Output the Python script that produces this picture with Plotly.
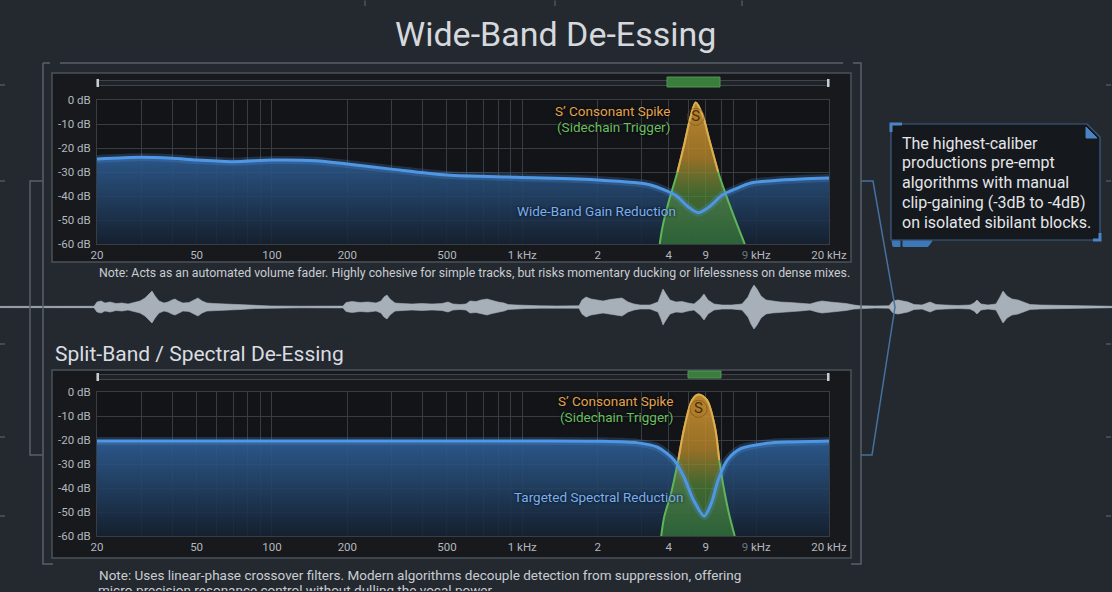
import math
import plotly.graph_objects as go

W, H = 1112, 592
FONT = "Roboto, 'Open Sans', sans-serif"
BG = "#242930"
GRID = "#383d45"

# ---------------- data ----------------
freq_tick_vals = [20, 50, 100, 200, 500, 1000, 2000, 3850, 5400, 8600, 16800]
freq_tick_text = ["20", "50", "100", "200", "500", "1 kHz", "2", "4", "9",
                  "<span style='color:#6d737b'>9</span> kHz", "20 kHz"]
freq_minor_grid = [30, 40, 60, 70, 80, 90, 300, 400, 600, 700, 800, 900,
                   3000, 4600, 6250, 6950]
db_tick_vals = [0, -10, -20, -30, -40, -50, -60]
db_tick_text = ["0 dB", "-10 dB", "-20 dB", "-30 dB", "-40 dB", "-50 dB", "-60 dB"]

# Wide-band gain reduction curve
wide_freq = [20, 30, 40, 50, 70, 100, 150, 200, 300, 500, 950, 2000, 2800, 3260,
             4080, 4600, 5050, 5600, 6300, 7200, 8200, 10000, 13000, 16800]
wide_db = [-24.6, -23.9, -24.3, -25.0, -25.7, -25.0, -25.3, -26.7, -28.8, -31.2,
           -32.2, -33.3, -34.4, -35.4, -39.6, -44.5, -47.0, -44.4, -39.6, -36.8,
           -34.6, -33.6, -32.9, -32.5]
wide_spike_freq = [3540, 3630, 3830, 4167, 4447, 4702, 4930, 5240, 5600, 6060, 6696, 7280, 7740]
wide_spike_db = [-60, -53, -43, -30, -18, -7, -1, -6, -17, -30, -43, -53, -60]

# Split-band targeted reduction curve
split_freq = [20, 100, 500, 1000, 2000, 2900, 3470, 4040, 4420, 4830, 5330, 5690,
              6060, 6600, 7480, 9450, 12000, 16800]
split_db = [-20.4, -20.4, -20.4, -20.4, -20.5, -21.2, -23.0, -28.3, -35.3, -45.0,
            -51.7, -46.4, -36.7, -28.3, -23.5, -21.4, -20.8, -20.4]
split_spike_freq = [3590, 3690, 3930, 4200, 4447, 4770, 5060, 5460, 5880, 6120, 6440, 6740, 7060]
split_spike_db = [-60, -52, -42.2, -28.3, -14.5, -3.3, -1, -3.3, -14.5, -28.3, -42.2, -52, -60]

# Vocal waveform envelope (time position, amplitude)
wave_envelope = [
    (0, 0.6), (94, 0.7), (97, 5), (101, 6), (105, 4), (110, 5), (116, 3.5), (122, 4),
    (128, 3), (134, 4.5), (140, 6), (145, 9), (149, 13), (152, 16), (155, 11), (159, 6),
    (164, 4), (168, 5), (172, 7), (175, 8), (178, 6), (183, 4), (189, 4.5), (194, 7),
    (198, 9), (202, 6), (207, 4), (214, 3.5), (225, 3), (240, 2.5), (255, 1.5), (271, 1),
    (300, 0.8), (343, 0.9), (346, 4.5), (352, 5.5), (360, 4.5), (368, 5), (376, 4),
    (381, 6), (384, 10), (387, 12), (390, 8), (395, 4), (402, 3.5), (412, 3), (422, 3.5),
    (432, 3), (442, 3.5), (448, 5), (453, 3), (460, 2.5), (466, 3), (470, 6), (476, 5.5),
    (481, 7), (487, 8), (492, 6.5), (498, 5), (504, 4), (508, 2.5), (516, 2), (526, 1.5),
    (540, 1.2), (557, 1), (579, 1.2), (582, 7), (586, 10), (591, 8), (597, 7), (603, 6),
    (610, 7.5), (616, 8), (622, 9), (628, 5), (634, 3), (640, 2), (650, 2), (658, 5),
    (661, 12), (663, 18), (666, 13), (670, 7), (676, 5), (682, 5.5), (688, 4), (694, 3),
    (700, 8), (704, 13), (708, 7), (714, 3), (722, 2), (732, 2), (742, 3), (748, 10),
    (751, 17), (754, 22), (757, 18), (761, 11), (766, 7), (772, 6), (780, 5), (790, 4.5),
    (800, 4), (810, 3), (817, 5), (822, 6), (830, 5), (838, 4.5), (846, 3.5), (854, 2),
    (860, 1.2), (875, 1), (889, 1.2), (893, 6), (898, 7), (903, 6), (908, 5), (914, 2.5),
    (922, 2), (930, 5), (936, 2.5), (945, 2), (958, 1.5), (970, 2), (974, 4), (977, 7),
    (981, 3), (988, 2), (996, 3), (1000, 10), (1003, 16), (1007, 11), (1012, 8),
    (1018, 7), (1024, 5), (1030, 2.5), (1040, 2), (1060, 1.5), (1085, 1), (1112, 0.7),
]
wave_time = [t for t, a in wave_envelope]
wave_amp = [a for t, a in wave_envelope]

callout_lines = ["The highest-caliber", "productions pre-empt", "algorithms with manual",
                 "clip-gaining (-3dB to -4dB)", "on isolated sibilant blocks."]


# ---------------- helpers (layout in pixels -> paper) ----------------
def PX(x):
    return x / W


def PY(y):
    return 1 - y / H


def rect(x0, y0, x1, y1, fill=None, line=None, lw=1.0, layer="below"):
    return dict(type="rect", xref="paper", yref="paper",
                x0=PX(x0), x1=PX(x1), y0=PY(y1), y1=PY(y0),
                fillcolor=fill or "rgba(0,0,0,0)",
                line=dict(color=line or "rgba(0,0,0,0)", width=lw if line else 0),
                layer=layer)


def poly(points, color, lw=1.5, fill=None, closed=False, layer="above"):
    d = "M" + " L".join(f"{PX(x):.5f},{PY(y):.5f}" for x, y in points)
    if closed:
        d += " Z"
    return dict(type="path", xref="paper", yref="paper", path=d,
                line=dict(color=color, width=lw),
                fillcolor=fill or "rgba(0,0,0,0)", layer=layer)


def txt(s, x, y, size, color, xanchor="center", yanchor="middle", shadow=None, **kw):
    f = dict(family=FONT, size=size, color=color)
    if shadow:
        f["shadow"] = shadow
    return dict(text=s, x=PX(x), y=PY(y), xref="paper", yref="paper", showarrow=False,
                xanchor=xanchor, yanchor=yanchor, font=f, **kw)


fig = go.Figure()


def add_panel(xa, ya, curve_f, curve_db, spike_f, spike_db, stop_db):
    base_db = min(db_tick_vals)
    fig.add_trace(go.Scatter(x=[curve_f[0], curve_f[-1]], y=[base_db, base_db],
                             mode="lines", line=dict(width=0, color="rgba(0,0,0,0)"),
                             xaxis=xa, yaxis=ya, hoverinfo="skip"))
    fig.add_trace(go.Scatter(x=curve_f, y=curve_db, mode="lines",
                             line=dict(width=0, shape="spline", smoothing=0.8, color="rgba(0,0,0,0)"),
                             fill="tonexty",
                             fillgradient=dict(type="vertical",
                                               colorscale=[[0, "rgba(22,34,50,0.88)"],
                                                           [1, "rgba(46,96,152,0.9)"]],
                                               start=base_db, stop=stop_db),
                             xaxis=xa, yaxis=ya, hoverinfo="skip"))
    fig.add_trace(go.Scatter(x=spike_f, y=spike_db, mode="lines",
                             line=dict(width=0, shape="spline", smoothing=0.9, color="rgba(0,0,0,0)"),
                             fill="toself",
                             fillgradient=dict(type="vertical",
                                               colorscale=[[0, "rgba(55,125,60,0.7)"],
                                                           [0.35, "rgba(85,135,55,0.72)"],
                                                           [0.6, "rgba(180,132,42,0.82)"],
                                                           [1, "rgba(206,146,48,0.9)"]],
                                               start=base_db, stop=0),
                             xaxis=xa, yaxis=ya, hoverinfo="skip"))
    fig.add_trace(go.Scatter(x=spike_f, y=spike_db, mode="lines",
                             line=dict(width=2, shape="spline", smoothing=0.9, color="#5fb55a"),
                             xaxis=xa, yaxis=ya, hoverinfo="skip"))
    up = [(f, d) for f, d in zip(spike_f, spike_db) if d >= -31]
    fig.add_trace(go.Scatter(x=[u[0] for u in up], y=[u[1] for u in up], mode="lines",
                             line=dict(width=2, shape="spline", smoothing=0.9, color="#eaa84c"),
                             xaxis=xa, yaxis=ya, hoverinfo="skip"))
    fig.add_trace(go.Scatter(x=curve_f, y=curve_db, mode="lines",
                             line=dict(width=8, shape="spline", smoothing=0.8, color="rgba(80,150,230,0.22)"),
                             xaxis=xa, yaxis=ya, hoverinfo="skip"))
    fig.add_trace(go.Scatter(x=curve_f, y=curve_db, mode="lines",
                             line=dict(width=3, shape="spline", smoothing=0.8, color="#4f97e4"),
                             xaxis=xa, yaxis=ya, hoverinfo="skip"))
    pk = spike_db.index(max(spike_db))
    fig.add_trace(go.Scatter(x=[spike_f[pk]], y=[spike_db[pk] - 6], mode="markers+text",
                             text=["S"], textposition="middle center",
                             textfont=dict(family=FONT, size=15, color="#4a2f0c"),
                             marker=dict(size=17, color="rgba(0,0,0,0)",
                                         line=dict(color="rgba(110,70,20,0.55)", width=1)),
                             xaxis=xa, yaxis=ya, hoverinfo="skip"))
    fig.add_trace(go.Scatter(x=[spike_f[pk]], y=[2.6], mode="markers",
                             marker=dict(symbol="triangle-down", size=11, color="#7cc35f"),
                             cliponaxis=False, xaxis=xa, yaxis=ya, hoverinfo="skip"))


add_panel("x", "y", wide_freq, wide_db, wide_spike_freq, wide_spike_db, -22)
add_panel("x2", "y2", split_freq, split_db, split_spike_freq, split_spike_db, -20)

# waveform
fig.add_trace(go.Scatter(x=[wave_time[0], wave_time[-1]], y=[0, 0], mode="lines",
                         line=dict(width=1, color="#7d858e"), xaxis="x3", yaxis="y3",
                         hoverinfo="skip"))
fig.add_trace(go.Scatter(x=wave_time + wave_time[::-1],
                         y=wave_amp + [-a for a in wave_amp[::-1]],
                         mode="lines", fill="toself", fillcolor="#a7b0b9",
                         line=dict(width=0.6, color="#a7b0b9"),
                         xaxis="x3", yaxis="y3", hoverinfo="skip"))


def freq_axis(anchor):
    return dict(type="log", range=[math.log10(freq_tick_vals[0]), math.log10(freq_tick_vals[-1])],
                domain=[PX(97), PX(829)], anchor=anchor, automargin=False,
                tickmode="array", tickvals=freq_tick_vals, ticktext=freq_tick_text,
                tickfont=dict(family=FONT, size=11.5, color="#b3b8be"),
                ticks="", showgrid=True, gridcolor=GRID, gridwidth=1,
                minor=dict(tickmode="array", tickvals=freq_minor_grid, showgrid=True,
                           gridcolor=GRID, gridwidth=1, ticks=""),
                showline=True, linecolor=GRID, linewidth=1, mirror=True,
                zeroline=False, fixedrange=True)


def db_axis(anchor, top, bottom):
    return dict(range=[min(db_tick_vals), max(db_tick_vals)], domain=[PY(bottom), PY(top)],
                anchor=anchor, automargin=False, tickmode="array", tickvals=db_tick_vals,
                ticktext=db_tick_text,
                tickfont=dict(family=FONT, size=11.5, color="#b3b8be"),
                ticks="outside", ticklen=3, tickcolor="rgba(0,0,0,0)",
                showgrid=True, gridcolor=GRID, gridwidth=1,
                showline=True, linecolor=GRID, linewidth=1, mirror=True,
                zeroline=False, fixedrange=True)


shapes = []
FR = "#59606a"
shapes += [
    poly([(43, 63), (50, 63)], FR), poly([(60, 63), (843, 63)], FR),
    poly([(853, 63), (861, 63), (861, 564), (851, 564)], FR),
    poly([(43, 63), (43, 564), (53, 564)], FR),
    poly([(43, 181), (30, 181), (30, 455), (43, 455)], FR),
]
for yy in [85, 181, 344, 437, 516]:
    shapes.append(poly([(0, yy), (5, yy)], "#5a616a", 1.2))
    shapes.append(poly([(1106, yy), (1111, yy)], "#5a616a", 1.2))
for xx in [365, 555, 742]:
    shapes.append(poly([(xx, 0.5), (xx, 6)], "#5a616a", 1.2))

for (fy0, fy1, py0, py1, sy, gx0, gx1, gy0, gy1) in [
        (73, 262, 100, 244, 83, 667, 720, 77, 87),
        (370, 558, 392, 536, 377, 688, 721, 371, 378)]:
    shapes.append(rect(52, fy0, 851, fy1, fill="#17191d", line="#4b5159", lw=1.5))
    shapes.append(rect(97, py0, 829, py1, fill="#121418"))
    shapes.append(rect(97, sy - 2.5, 829, sy + 2.5, fill="#1f2328", line="#40454d", lw=1, layer="above"))
    shapes.append(rect(96.5, sy - 4, 99, sy + 4, fill="#c9cdd2", layer="above"))
    shapes.append(rect(827, sy - 4, 829.5, sy + 4, fill="#c9cdd2", layer="above"))
    shapes.append(rect(gx0, gy0, gx1, gy1, fill="#3b7d3c", line="#4f9a50", lw=1, layer="above"))

shapes.append(poly([(861, 181), (873, 181), (895, 307), (872, 455), (861, 455)], "#45709f", 1.5))
shapes.append(poly([(891, 124), (1087, 124), (1100, 137), (1100, 240), (891, 240)],
                   "#3d5f85", 1.2, fill="#15181c", closed=True))
shapes.append(poly([(1086, 127), (1097, 138), (1086, 138)], "#4a83c6", 1, fill="#4a83c6", closed=True))
shapes.append(poly([(891, 132), (891, 124), (902, 124)], "#4a83c6", 3))
shapes.append(poly([(1093, 240), (1100, 240), (1100, 233)], "#4a83c6", 3))
shapes.append(poly([(892, 241), (900, 241), (900, 246.5), (893, 246.5)], "#3f78b8", 1, fill="#3f78b8", closed=True))
shapes.append(poly([(903, 241), (932, 241), (928, 246.5), (903, 246.5)], "#3f78b8", 1, fill="#3f78b8", closed=True))

ann = [
    txt("Wide-Band De-Essing", 555, 34, 34, "#d5d9de"),
    txt("Split-Band / Spectral De-Essing", 53, 354, 21, "#d9dde2", xanchor="left"),
    txt("Note: Acts as an automated volume fader. Highly cohesive for simple tracks, "
        "but risks momentary ducking or lifelessness on dense mixes.", 97, 273, 12.3, "#c9cdd2",
        xanchor="left"),
    txt("Note: Uses linear-phase crossover filters. Modern algorithms decouple detection "
        "from suppression, offering", 97, 575, 13.5, "#c9cdd2", xanchor="left"),
    # second line is cut by the lower edge of the picture: clipped box that ends at the edge
    txt("micro-precision resonance control without dulling the vocal power.", 97, 592, 13.5,
        "#c9cdd2", xanchor="left", yanchor="bottom", height=9, valign="top", borderpad=0),
    txt("S\u2019 Consonant Spike", 672, 111, 13.5, "#e3a34c", xanchor="right",
        shadow="0px 0px 3px #000000"),
    txt("(Sidechain Trigger)", 672, 127.5, 13.5, "#6abf5e", xanchor="right",
        shadow="0px 0px 3px #000000"),
    txt("Wide-Band Gain Reduction", 596, 211, 13.5, "#7ab0f0", shadow="0px 0px 3px #05080c"),
    txt("S\u2019 Consonant Spike", 675, 401, 13.5, "#e3a34c", xanchor="right",
        shadow="0px 0px 3px #000000"),
    txt("(Sidechain Trigger)", 675, 417, 13.5, "#6abf5e", xanchor="right",
        shadow="0px 0px 3px #000000"),
    txt("Targeted Spectral Reduction", 598, 497, 13.5, "#7ab0f0", shadow="0px 0px 3px #05080c"),
]
for i, line in enumerate(callout_lines):
    ann.append(txt(line, 900, 143 + i * 19.8, 16, "#e4e6e9", xanchor="left"))

fig.update_layout(
    width=W, height=H, autosize=False,
    margin=dict(l=0, r=0, t=0, b=0, pad=0),
    paper_bgcolor=BG, plot_bgcolor="rgba(0,0,0,0)",
    showlegend=False, hovermode=False,
    font=dict(family=FONT, color="#c9cdd2"),
    xaxis=freq_axis("y"),
    yaxis=db_axis("x", 100, 244),
    xaxis2=freq_axis("y2"),
    yaxis2=db_axis("x2", 392, 536),
    xaxis3=dict(domain=[0, 1], range=[0, W], visible=False, anchor="y3", fixedrange=True),
    yaxis3=dict(domain=[PY(333), PY(281)], range=[-26, 26], visible=False, anchor="x3",
                fixedrange=True),
    shapes=shapes,
    annotations=ann,
)

fig.write_html("out.html")
